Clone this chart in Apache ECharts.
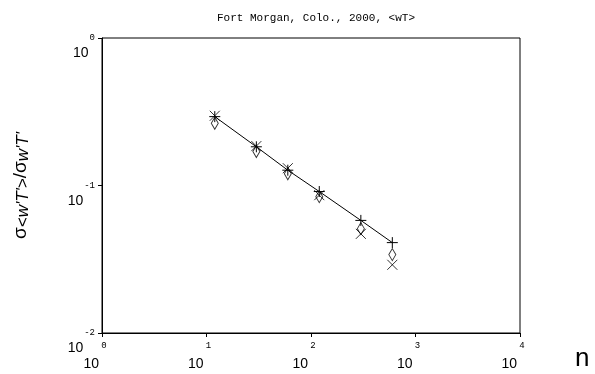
<!DOCTYPE html>
<html><head><meta charset="utf-8">
<script src="https://cdn.jsdelivr.net/npm/echarts@6/dist/echarts.min.js"></script>
<style>html,body{margin:0;padding:0;background:#fff}#c{width:595px;height:374px}</style>
</head><body><div id="c"></div>
<script>
const titleText = 'Fort Morgan, Colo., 2000, <wT>';
const xName = 'n';
const nValues = [12, 30, 60, 120, 300, 600];
const plusValues = [0.293, 0.183, 0.127, 0.091, 0.058, 0.041];
const diamondValues = [0.264, 0.170, 0.120, 0.084, 0.051, 0.034];
const crossValues = [0.297, 0.185, 0.131, 0.086, 0.047, 0.029];
const xRange = [1, 10000];
const yRange = [0.01, 1];

const mono = 'Liberation Mono';
const sans = 'Liberation Sans';
const pair = (xs, ys) => xs.map((x, i) => [x, ys[i]]);
const expOf = v => String(Math.round(Math.log10(v)));
const expW = 5.4;

const chart = echarts.init(document.getElementById('c'), null, {renderer: 'canvas'});
const noLines = {axisLine: {show: false}, axisTick: {show: false}, splitLine: {show: false}};
const yBaseRich = {};
for (let k = 1; k <= 3; k++) {
  yBaseRich['b' + k] = {fontFamily: sans, fontSize: 14, color: '#000', padding: [31, k * expW + 1, 0, 0]};
}

chart.setOption({
  animation: false,
  backgroundColor: '#fff',
  title: {
    text: titleText, left: 311, top: 8, textAlign: 'center',
    textStyle: {fontFamily: mono, fontSize: 11, fontWeight: 'normal', color: '#000'}
  },
  grid: {left: 102, right: 75, top: 38, bottom: 41, show: true, borderColor: '#000', borderWidth: 1, backgroundColor: 'transparent'},
  xAxis: [
    {
      type: 'log', logBase: 10, min: xRange[0], max: xRange[1], position: 'bottom',
      name: xName, nameLocation: 'end', nameGap: 55,
      nameTextStyle: {fontFamily: sans, fontSize: 26, color: '#000', verticalAlign: 'top', padding: [13, 0, 0, 0]},
      axisLine: {show: true, lineStyle: {color: '#000', width: 1}},
      axisTick: {show: true, inside: false, length: 4, lineStyle: {color: '#000'}},
      minorTick: {show: false}, splitLine: {show: false},
      axisLabel: {margin: 8, formatter: v => expOf(v), fontFamily: mono, fontSize: 9, color: '#000', align: 'center', padding: [0, 0, 0, 4], showMinLabel: true, showMaxLabel: true}
    },
    Object.assign({
      type: 'log', logBase: 10, min: xRange[0], max: xRange[1], position: 'bottom',
      axisLabel: {margin: 24, formatter: () => '10', fontFamily: sans, fontSize: 14, color: '#000', align: 'right', padding: [0, 3, 0, 0], showMinLabel: true, showMaxLabel: true}
    }, noLines)
  ],
  yAxis: [
    {
      type: 'log', logBase: 10, min: yRange[0], max: yRange[1], position: 'left',
      name: '{s|σ}{sub|<w\'T\'>}{s|/σ}{sub|w\'T\'}', nameLocation: 'middle', nameGap: 70, nameRotate: 90,
      nameTextStyle: {
        color: '#000',
        rich: {
          s: {fontFamily: sans, fontSize: 19, color: '#000'},
          sub: {fontFamily: sans, fontSize: 17, fontStyle: 'italic', color: '#000', padding: [6, 0, 0, 0]}
        }
      },
      axisLine: {show: true, lineStyle: {color: '#000', width: 1}},
      axisTick: {show: true, inside: false, length: 4, lineStyle: {color: '#000'}},
      minorTick: {show: false}, splitLine: {show: false},
      axisLabel: {margin: 7, formatter: v => expOf(v), fontFamily: mono, fontSize: 9, color: '#000', showMinLabel: true, showMaxLabel: true}
    },
    Object.assign({
      type: 'log', logBase: 10, min: yRange[0], max: yRange[1], position: 'left',
      axisLabel: {margin: 7, formatter: v => '{b' + expOf(v).length + '|10}', rich: yBaseRich, showMinLabel: true, showMaxLabel: true}
    }, noLines)
  ],
  series: [
    {
      type: 'line', xAxisIndex: 0, yAxisIndex: 0,
      data: pair(nValues, plusValues),
      symbol: 'path://M5,0L5,10M0,5L10,5', symbolSize: 11,
      itemStyle: {color: '#000', borderColor: '#000', borderWidth: 1},
      lineStyle: {color: '#000', width: 1}, z: 3
    },
    {
      type: 'scatter', xAxisIndex: 0, yAxisIndex: 0,
      data: pair(nValues, diamondValues),
      symbol: 'path://M5,0L10,8L5,16L0,8Z', symbolSize: [7, 12],
      itemStyle: {color: 'rgba(0,0,0,0)', borderColor: '#000', borderWidth: 1}, z: 2
    },
    {
      type: 'scatter', xAxisIndex: 0, yAxisIndex: 0,
      data: pair(nValues, crossValues),
      symbol: 'path://M0,0L10,10M10,0L0,10', symbolSize: 10,
      itemStyle: {color: '#000', borderColor: '#000', borderWidth: 1}, z: 2
    }
  ]
});
</script>
</body></html>
